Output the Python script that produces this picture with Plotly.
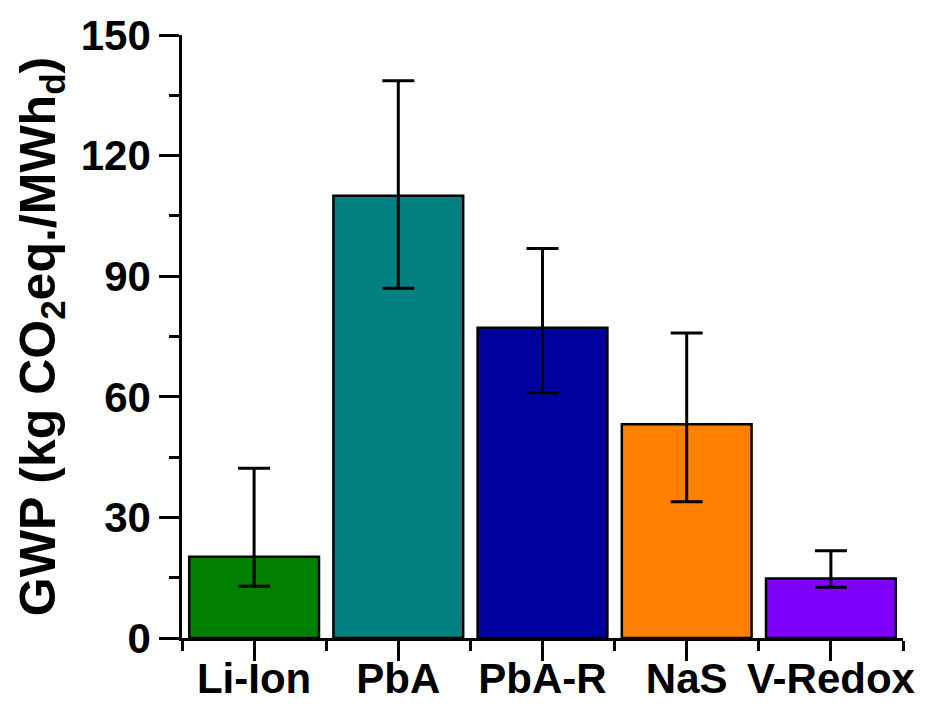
import plotly.graph_objects as go

categories = ["Li-Ion", "PbA", "PbA-R", "NaS", "V-Redox"]
gwp = [20.2, 110.0, 77.2, 53.2, 14.8]
err_high = [42.2, 138.6, 96.9, 75.9, 21.7]
err_low = [12.9, 87.0, 61.0, 33.9, 12.6]
colors = ["#007F00", "#008080", "#0000A0", "#FF8000", "#8000FF"]

xpos = list(range(len(categories)))
plus = [h - v for h, v in zip(err_high, gwp)]
minus = [v - l for l, v in zip(err_low, gwp)]

FONT = "Liberation Sans, Arial, sans-serif"

fig = go.Figure(go.Bar(
    x=xpos, y=gwp, width=0.9,
    marker=dict(color=colors, line=dict(color="black", width=2.5)),
    error_y=dict(type="data", symmetric=False, array=plus, arrayminus=minus,
                 color="black", thickness=3, width=16),
))

fig.update_layout(
    width=930, height=713,
    margin=dict(l=182, r=27, t=35, b=75),
    plot_bgcolor="white", paper_bgcolor="white",
    showlegend=False,
    font=dict(family=FONT, color="black", size=42, weight="bold"),
    xaxis=dict(
        range=[-0.5, 4.5], tickmode="array", tickvals=xpos, ticktext=categories,
        showline=True, linecolor="black", linewidth=2.5, automargin=False,
        ticks="outside", ticklen=20, tickwidth=2.5, tickcolor="black",
        showgrid=False, zeroline=False, ticklabelstandoff=-18,
        tickfont=dict(family=FONT, size=42, weight="bold"),
        minor=dict(tickmode="linear", tick0=-0.5, dtick=1, ticks="outside",
                   ticklen=10, tickwidth=2.5, tickcolor="black", showgrid=False),
    ),
    yaxis=dict(
        range=[0, 150], tickmode="linear", tick0=0, dtick=30,
        showline=True, linecolor="black", linewidth=2.5, automargin=False,
        ticks="outside", ticklen=20, tickwidth=2.5, tickcolor="black",
        showgrid=False, zeroline=False,
        tickfont=dict(family=FONT, size=42, weight="bold"),
        minor=dict(tickmode="linear", tick0=15, dtick=30, ticks="outside",
                   ticklen=10, tickwidth=2.5, tickcolor="black", showgrid=False),
        title=dict(text="GWP (kg CO<sub>2</sub>eq./MWh<sub>d</sub>)",
                   font=dict(family=FONT, size=50, weight="bold"), standoff=10),
    ),
)

fig.write_html("out.html")
